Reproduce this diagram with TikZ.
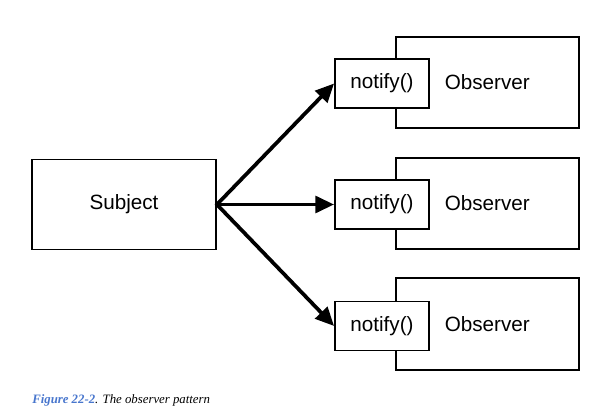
\documentclass[tikz,border=0pt]{standalone}
\usepackage{fontspec}
\setsansfont{Liberation Sans}
\newfontfamily\capfont{Liberation Serif}
\usetikzlibrary{arrows.meta}
\definecolor{figblue}{RGB}{72,118,205}
\tikzset{
  box/.style={draw, line width=1.4pt, fill=white, inner sep=0pt,
    font=\sffamily\fontsize{15.5}{18}\selectfont},
  subjbox/.style={box, minimum width=138pt, minimum height=67.5pt},
  obsbox/.style={box, minimum width=137pt, minimum height=68.5pt, text width=137pt, align=left},
  callbox/.style={box, minimum width=70.5pt, minimum height=36.75pt},
  push/.style={line width=2.8pt, -{Triangle[length=14pt,width=12.5pt]}, shorten <=-1pt}
}
\begin{document}
\begin{tikzpicture}[x=0.75pt,y=-0.75pt]
    \useasboundingbox (0,0) rectangle (597,414);
    \node[subjbox] (S) at (124,204.5) {Subject};
    % observers
    \node[obsbox] (O1) at (487.5,82.5) {\hspace{36.5pt}Observer};
    \node[callbox] (N1) at (382,83.5) {notify()};
    \node[obsbox] (O2) at (487.5,203.5) {\hspace{36.5pt}Observer};
    \node[callbox] (N2) at (382,204.5) {notify()};
    \node[obsbox] (O3) at (487.5,324) {\hspace{36.5pt}Observer};
    \node[callbox] (N3) at (382,326) {notify()};
    % calls
    \draw[push] (S.east) -- (N1.west);
    \draw[push] (S.east) -- (N2.west);
    \draw[push] (S.east) -- (N3.west);
    \node[anchor=west, inner sep=0pt, font=\capfont\fontsize{9.6}{11}\selectfont] (cap) at (32,400)
      {\textcolor{figblue}{\textit{\textbf{Figure 22-2}}}\textit{. The observer pattern}};
\end{tikzpicture}
\end{document}
